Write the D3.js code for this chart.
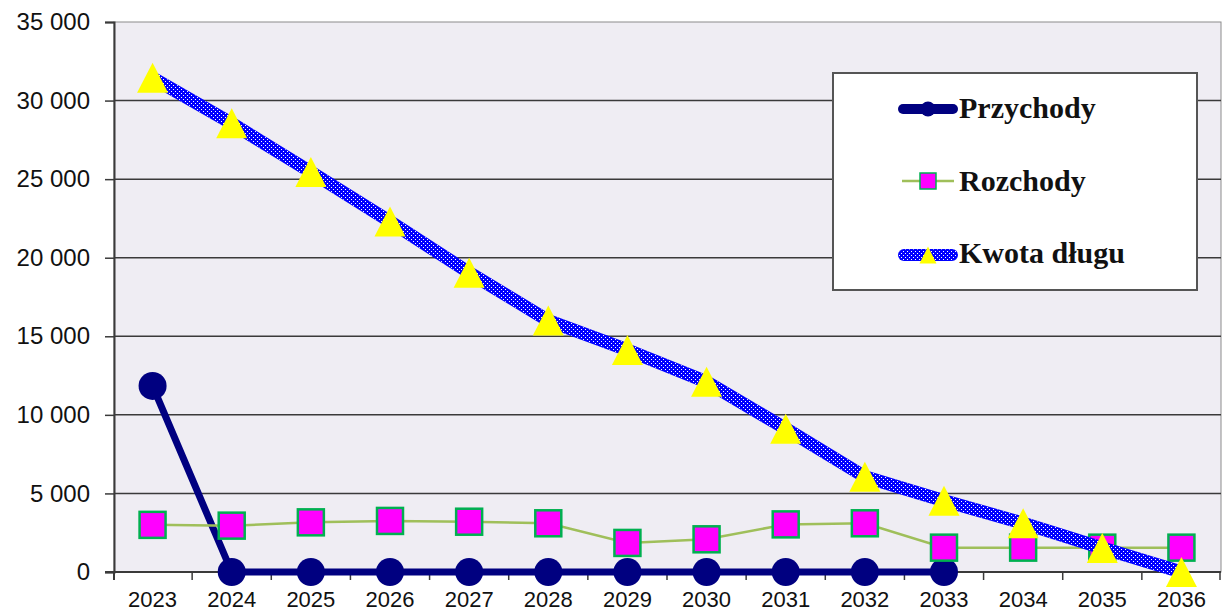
<!DOCTYPE html>
<html>
<head>
<meta charset="utf-8">
<script src="https://cdn.jsdelivr.net/npm/d3@7"></script>
<style>
  html, body { margin: 0; padding: 0; background: #ffffff; }
  svg { display: block; }
</style>
</head>
<body>
<svg id="chart" width="1222" height="613"></svg>
<script>
// Years on the category axis
const years = ["2023","2024","2025","2026","2027","2028","2029","2030","2031","2032","2033","2034","2035","2036"];

// Series values (null = no value for that year)
const przychody = [11840, 0, 0, 0, 0, 0, 0, 0, 0, 0, 0, null, null, null];
const rozchody  = [3000, 2950, 3160, 3250, 3200, 3100, 1850, 2080, 3030, 3100, 1550, 1550, 1550, 1550];
const kwotaDlugu = [31450, 28550, 25450, 22300, 19050, 16000, 14130, 12100, 9120, 6060, 4540, 3110, 1530, 0];

// Value axis ticks
const yTicks = [0, 5000, 10000, 15000, 20000, 25000, 30000, 35000];

// Legend entries
const seriesNames = ["Przychody", "Rozchody", "Kwota długu"];

const svg = d3.select("#chart");

const plot = { left: 114, right: 1221, top: 22, bottom: 572 };

const x = d3.scaleBand().domain(years).range([plot.left - 1, plot.right]).paddingInner(0).paddingOuter(0);
const xc = d => x(d) + x.bandwidth() / 2;
const y = d3.scaleLinear().domain([0, 35000]).range([plot.bottom, plot.top]);

const plLocale = d3.formatLocale({ decimal: ",", thousands: " ", grouping: [3], currency: ["", ""] });
const fmt = plLocale.format(",d");

// White dot overlay used on top of the solid blue debt line
const defs = svg.append("defs");
const pat = defs.append("pattern")
  .attr("id", "dots")
  .attr("patternUnits", "userSpaceOnUse")
  .attr("width", 4).attr("height", 4);
pat.append("rect").attr("x", 1).attr("y", 1).attr("width", 1).attr("height", 1)
  .attr("fill", "#ffffff").attr("shape-rendering", "crispEdges");
pat.append("rect").attr("x", 3).attr("y", 3).attr("width", 1).attr("height", 1)
  .attr("fill", "#ffffff").attr("shape-rendering", "crispEdges");

// Plot background
svg.append("rect")
  .attr("x", plot.left).attr("y", plot.top)
  .attr("width", plot.right - plot.left).attr("height", plot.bottom - plot.top)
  .attr("fill", "#efedf3")
  .attr("stroke", "#8c8c8c").attr("stroke-width", 1);

// Horizontal gridlines
svg.append("g").selectAll("line")
  .data(yTicks.filter(v => v > 0 && v < 35000))
  .join("line")
  .attr("x1", plot.left).attr("x2", plot.right)
  .attr("y1", d => y(d)).attr("y2", d => y(d))
  .attr("stroke", "#3a3a3a").attr("stroke-width", 1.5);

// Value axis
const yAxis = svg.append("g")
  .attr("transform", `translate(${plot.left},0)`)
  .call(d3.axisLeft(y).tickValues(yTicks).tickFormat(fmt).tickSize(9).tickPadding(15));
yAxis.select(".domain").attr("stroke", "#3a3a3a").attr("stroke-width", 2);
yAxis.selectAll(".tick line").attr("stroke", "#3a3a3a").attr("stroke-width", 1.5);
yAxis.selectAll("text")
  .attr("font-family", "'Liberation Sans', Arial, sans-serif")
  .attr("font-size", 24).attr("fill", "#111");

// Category axis
const xAxis = svg.append("g")
  .attr("transform", `translate(0,${plot.bottom})`)
  .call(d3.axisBottom(x).tickSize(0).tickPadding(19));
xAxis.select(".domain").remove();
xAxis.selectAll("text")
  .attr("font-family", "'Liberation Sans', Arial, sans-serif")
  .attr("font-size", 22).attr("fill", "#111");

svg.append("line")
  .attr("x1", plot.left - 9).attr("x2", plot.right)
  .attr("y1", plot.bottom).attr("y2", plot.bottom)
  .attr("stroke", "#3a3a3a").attr("stroke-width", 2);

// Tick marks between categories
svg.append("g").selectAll("line")
  .data(years.slice(1).concat(["end"]))
  .join("line")
  .attr("x1", d => d === "end" ? plot.right - 1 : x(d))
  .attr("x2", d => d === "end" ? plot.right - 1 : x(d))
  .attr("y1", plot.bottom).attr("y2", plot.bottom + 8)
  .attr("stroke", "#3a3a3a").attr("stroke-width", 1.5);
svg.append("line")
  .attr("x1", plot.left).attr("x2", plot.left)
  .attr("y1", plot.bottom).attr("y2", plot.bottom + 8)
  .attr("stroke", "#3a3a3a").attr("stroke-width", 2);

const lineGen = d3.line()
  .defined(d => d.v !== null)
  .x(d => xc(d.year))
  .y(d => y(d.v));

const toPts = arr => years.map((yr, i) => ({ year: yr, v: arr[i] }));

// Przychody
const gP = svg.append("g");
gP.append("path")
  .datum(toPts(przychody))
  .attr("d", lineGen)
  .attr("fill", "none").attr("stroke", "#000080").attr("stroke-width", 7)
  .attr("stroke-linejoin", "round");
gP.selectAll("circle")
  .data(toPts(przychody).filter(d => d.v !== null))
  .join("circle")
  .attr("cx", d => xc(d.year)).attr("cy", d => y(d.v))
  .attr("r", 14).attr("fill", "#000080");

// Rozchody
const gR = svg.append("g");
gR.append("path")
  .datum(toPts(rozchody))
  .attr("d", lineGen)
  .attr("fill", "none").attr("stroke", "#9fbf5a").attr("stroke-width", 2.5);
gR.selectAll("rect")
  .data(toPts(rozchody))
  .join("rect")
  .attr("x", d => xc(d.year) - 13).attr("y", d => y(d.v) - 13)
  .attr("width", 26).attr("height", 26)
  .attr("fill", "#ff00ff").attr("stroke", "#00b050").attr("stroke-width", 2.5);

// Kwota długu: solid blue band with a white dot texture on top
const gK = svg.append("g");
const kPts = toPts(kwotaDlugu);
gK.append("path")
  .datum(kPts)
  .attr("d", lineGen)
  .attr("fill", "none").attr("stroke", "#0000ff").attr("stroke-width", 13)
  .attr("stroke-linejoin", "round");
gK.append("path")
  .datum(kPts)
  .attr("d", lineGen)
  .attr("fill", "none").attr("stroke", "url(#dots)").attr("stroke-width", 12)
  .attr("stroke-linejoin", "round");
const tri = (cx, cy, w, h) => `M${cx},${cy - h / 2}L${cx + w / 2},${cy + h / 2}L${cx - w / 2},${cy + h / 2}Z`;
gK.selectAll("path.tri")
  .data(kPts)
  .join("path")
  .attr("class", "tri")
  .attr("d", d => tri(xc(d.year), y(d.v), 31, 30))
  .attr("fill", "#ffff00");

// Legend
const lg = svg.append("g");
lg.append("rect")
  .attr("x", 833).attr("y", 73).attr("width", 364).attr("height", 217)
  .attr("fill", "#ffffff").attr("stroke", "#555555").attr("stroke-width", 2);

const legendY = [109, 181, 255];
const sx1 = 898, sx2 = 958, sxm = 928;

lg.append("line")
  .attr("x1", sx1 + 5).attr("x2", sx2 - 5).attr("y1", legendY[0]).attr("y2", legendY[0])
  .attr("stroke", "#000080").attr("stroke-width", 10).attr("stroke-linecap", "round");
lg.append("circle").attr("cx", sxm).attr("cy", legendY[0]).attr("r", 7.5).attr("fill", "#000080");

lg.append("line")
  .attr("x1", 902).attr("x2", 954).attr("y1", legendY[1]).attr("y2", legendY[1])
  .attr("stroke", "#9fbf5a").attr("stroke-width", 2.5);
lg.append("rect")
  .attr("x", sxm - 8).attr("y", legendY[1] - 8).attr("width", 16).attr("height", 16)
  .attr("fill", "#ff00ff").attr("stroke", "#00b050").attr("stroke-width", 1.5);

lg.append("line")
  .attr("x1", sx1 + 6).attr("x2", sx2 - 6).attr("y1", legendY[2]).attr("y2", legendY[2])
  .attr("stroke", "#0000ff").attr("stroke-width", 12).attr("stroke-linecap", "round");
lg.append("line")
  .attr("x1", sx1 + 6).attr("x2", sx2 - 6).attr("y1", legendY[2]).attr("y2", legendY[2])
  .attr("stroke", "url(#dots)").attr("stroke-width", 11).attr("stroke-linecap", "round");
lg.append("path").attr("d", tri(sxm, legendY[2], 17, 17)).attr("fill", "#ffff00");

lg.selectAll("text.lbl")
  .data(seriesNames)
  .join("text")
  .attr("class", "lbl")
  .attr("x", 959)
  .attr("y", (d, i) => [118, 191, 263][i])
  .attr("font-family", "'Liberation Serif', 'Times New Roman', serif")
  .attr("font-weight", "bold")
  .attr("font-size", 30)
  .attr("fill", "#111")
  .text(d => d);
</script>
</body>
</html>
